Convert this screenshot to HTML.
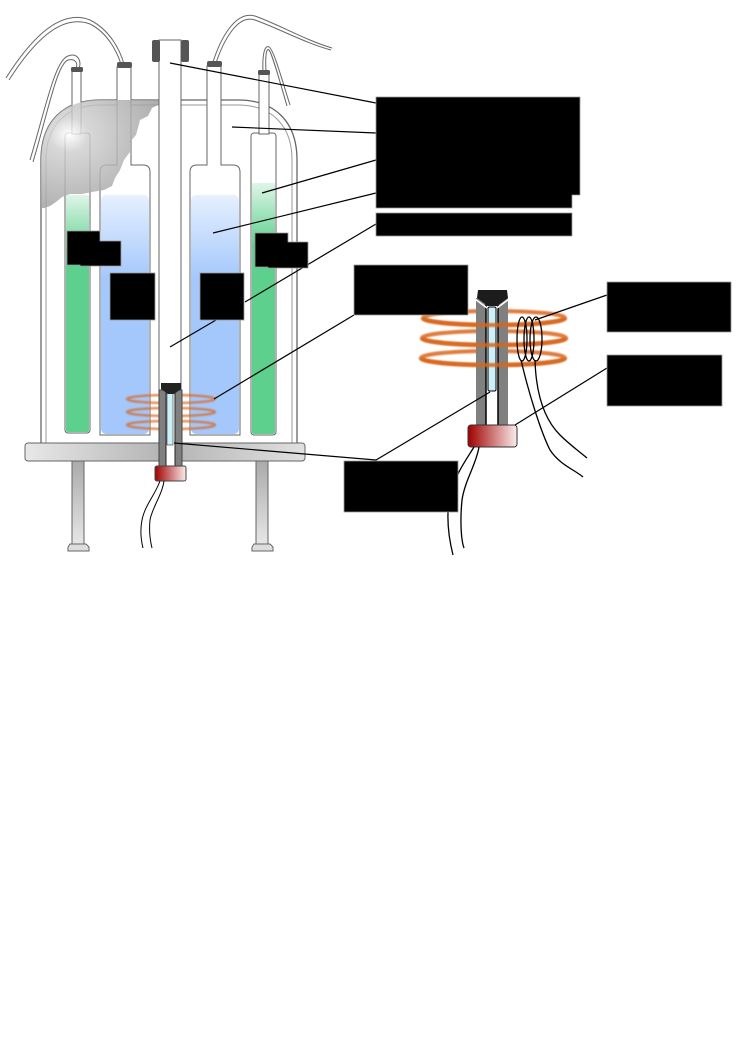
<!DOCTYPE html>
<html><head><meta charset="utf-8"><style>html,body{margin:0;padding:0;background:#fff}svg{display:block}</style></head>
<body>
<svg width="744" height="1052" viewBox="0 0 744 1052" xmlns="http://www.w3.org/2000/svg">
<defs>
<linearGradient id="blue" x1="0" y1="0" x2="0" y2="1"><stop offset="0" stop-color="#e6f0ff"/><stop offset="0.35" stop-color="#a4c8fc"/><stop offset="1" stop-color="#a4c8fc"/></linearGradient>
<linearGradient id="green" x1="0" y1="0" x2="0" y2="1"><stop offset="0" stop-color="#dff5e8"/><stop offset="0.25" stop-color="#5ed08e"/><stop offset="1" stop-color="#5ed08e"/></linearGradient>
<linearGradient id="plate" x1="0" y1="0" x2="1" y2="0"><stop offset="0" stop-color="#e8e8e8"/><stop offset="0.5" stop-color="#b3b3b3"/><stop offset="1" stop-color="#e0e0e0"/></linearGradient>
<linearGradient id="leg" x1="0" y1="0" x2="0" y2="1"><stop offset="0" stop-color="#aaa"/><stop offset="1" stop-color="#e6e6e6"/></linearGradient>
<linearGradient id="red" x1="0" y1="0" x2="1" y2="0"><stop offset="0" stop-color="#a00000"/><stop offset="1" stop-color="#fbecec"/></linearGradient>
<radialGradient id="cloud" cx="0.3" cy="0.35" r="0.75"><stop offset="0" stop-color="#fff"/><stop offset="0.2" stop-color="#cfcfcf"/><stop offset="1" stop-color="#9a9a9a"/></radialGradient>
<clipPath id="dw"><path d="M41 445 L41 160 C41 120,65 100,100 100 L238 100 C273 100,297 120,297 160 L297 445 Z"/></clipPath>
<filter id="bl"><feGaussianBlur stdDeviation="0.8"/></filter>
</defs>
<!-- tubing -->
<g fill="none" stroke="#666" stroke-width="1">
<path d="M6 78 C30 40,60 8,90 20 C110 30,120 50,124 64"/><path d="M9 80 C32 44,60 13,90 24 C108 33,117 52,121 64"/>
<path d="M30 160 C45 110,55 60,68 56 C78 52,82 62,79 68"/><path d="M33 162 C48 112,57 64,68 60 C76 58,78 64,76 68"/>
<path d="M213 62 C220 40,235 10,255 16 C280 25,305 40,332 48"/><path d="M216 63 C223 42,237 14,255 20 C280 29,305 43,331 50"/>
<path d="M263 72 C262 50,266 45,269 47 C274 50,282 80,290 105"/><path d="M266 72 C265 52,267 48,269 50 C272 53,280 82,287 106"/>
</g>
<!-- dewar outer -->
<path d="M41 445 L41 160 C41 120,65 100,100 100 L238 100 C273 100,297 120,297 160 L297 445" fill="#fff" stroke="#666" stroke-width="1.3"/>
<path d="M46 445 L46 160 C46 124,68 105,100 105 L238 105 C270 105,292 124,292 160 L292 445" fill="none" stroke="#999" stroke-width="1"/>
<!-- left small tube -->
<rect x="65" y="133" width="25" height="300" rx="3" fill="#fff" stroke="#666"/>
<rect x="66" y="195" width="23" height="237" rx="2" fill="url(#green)"/>
<rect x="72" y="70" width="9" height="64" fill="#fff" stroke="#666"/>
<rect x="71" y="67" width="12" height="5" rx="1.5" fill="#555"/>
<!-- right small tube -->
<rect x="251" y="133" width="25" height="302" rx="3" fill="#fff" stroke="#666"/>
<rect x="252" y="183" width="23" height="251" rx="2" fill="url(#green)"/>
<rect x="259" y="73" width="10" height="61" fill="#fff" stroke="#666"/>
<rect x="258" y="70" width="12" height="5" rx="1.5" fill="#555"/>
<!-- left flask -->
<path d="M100 435 L100 172 Q100 165,107 165 L117 165 L117 67 L131 67 L131 165 L143 165 Q150 165,150 172 L150 435 Z" fill="#fff" stroke="#666"/>
<rect x="101" y="195" width="48" height="239" rx="5" fill="url(#blue)"/>
<rect x="117" y="62" width="15" height="6" rx="2" fill="#555"/>
<!-- cloud -->
<path clip-path="url(#dw)" d="M30 95 L160 98 L160 104 L152 108 L148 116 L140 120 L138 128 L136 135 L130 142 L130 152 L124 160 L120 170 L115 178 L112 186 L104 190 L92 192 L82 194 L70 194 L62 197 L56 202 L50 206 L44 208 L30 208 Z" fill="url(#cloud)" opacity="0.82"/>
<!-- right flask -->
<path d="M190 435 L190 172 Q190 165,197 165 L207 165 L207 66 L221 66 L221 165 L233 165 Q240 165,240 172 L240 435 Z" fill="#fff" stroke="#666"/>
<rect x="191" y="195" width="48" height="239" rx="5" fill="url(#blue)"/>
<rect x="207" y="61" width="15" height="6" rx="2" fill="#555"/>
<!-- center tube -->
<rect x="159" y="40" width="22" height="410" fill="#fff" stroke="#666"/>
<rect x="152" y="40" width="8" height="22" rx="2" fill="#555"/>
<rect x="181" y="40" width="8" height="22" rx="2" fill="#555"/>
<!-- coils back -->
<g fill="none" stroke="#d9661c" stroke-width="2.5" opacity="0.7" filter="url(#bl)">
<ellipse cx="171" cy="399" rx="44" ry="4"/><ellipse cx="171" cy="412" rx="44" ry="4"/><ellipse cx="171" cy="425" rx="44" ry="4"/></g>
<!-- base -->
<rect x="25" y="443" width="280" height="18" rx="3" fill="url(#plate)" stroke="#666"/>
<rect x="72" y="461" width="12" height="83" fill="url(#leg)" stroke="#666"/>
<path d="M70 544 L86 544 L89 547 L89 551 L68 551 L68 547 Z" fill="#ddd" stroke="#666"/>
<rect x="256" y="461" width="12" height="83" fill="url(#leg)" stroke="#666"/>
<path d="M254 544 L270 544 L273 547 L273 551 L252 551 L252 547 Z" fill="#ddd" stroke="#666"/>
<!-- small probe -->
<rect x="159" y="390" width="23" height="78" fill="#808080" stroke="#444"/>
<rect x="166" y="393" width="9" height="75" fill="#fff" stroke="#222"/>
<rect x="167" y="393" width="6" height="52" fill="#cdf0f8" stroke="#333" stroke-width="0.6"/>
<path d="M161 383 L181 383 L181 389 L174 394 L168 394 L161 389 Z" fill="#222"/>
<rect x="155" y="466" width="31" height="15" rx="2" fill="url(#red)" stroke="#444"/>
<path d="M160 481 C155 495,145 505,142 520 C140 530,141 540,143 548" fill="none" stroke="#000"/>
<path d="M164 481 C162 495,152 508,150 520 C149 530,150 540,152 548" fill="none" stroke="#000"/>
<!-- big probe -->
<g fill="none" stroke="#d9661c" stroke-width="4" opacity="0.85" filter="url(#bl)">
<ellipse cx="494" cy="318" rx="71" ry="7"/><ellipse cx="494" cy="338" rx="72" ry="7"/><ellipse cx="493" cy="358" rx="72" ry="7"/></g>
<rect x="476" y="298" width="32" height="128" fill="#808080"/>
<rect x="486" y="305" width="12" height="121" fill="#fff" stroke="#000" stroke-width="1.5"/>
<rect x="488" y="307" width="8" height="84" rx="1.5" fill="#cdf0f8" stroke="#000" stroke-width="1"/>
<path d="M478 290 L507 290 L508 298 L497 306 L488 306 L477 298 Z" fill="#1c1c1c"/>
<path d="M475 299 L487 308 M509 299 L497 308" stroke="#fff" stroke-width="1.5"/>
<g fill="none" stroke="#d9661c" stroke-width="4" opacity="0.85" filter="url(#bl)">
<path d="M423 318 A71 7 0 0 0 565 318"/><path d="M422 338 A72 7 0 0 0 566 338"/><path d="M421 358 A72 7 0 0 0 565 358"/></g>
<rect x="468" y="425" width="49" height="22" rx="3" fill="url(#red)" stroke="#333"/>
<g fill="none" stroke="#000" stroke-width="1.3">
<ellipse cx="522" cy="339" rx="5" ry="22"/><ellipse cx="529" cy="339" rx="5" ry="22"/><ellipse cx="536" cy="339" rx="6" ry="22"/>
<path d="M521 360 C528 390,540 430,550 450 C560 465,575 470,583 477"/>
<path d="M535 360 C536 395,545 420,560 435 C570 445,580 452,587 458"/>
<path d="M474 447 C466 460,455 475,450 495 C446 515,448 535,453 555"/>
<path d="M479 447 C476 465,465 480,462 500 C460 520,461 540,464 548"/>
</g>
<!-- leader lines -->
<g stroke="#000" stroke-width="1.2" fill="none">
<path d="M170 63 L376 103"/><path d="M232 127 L376 133"/><path d="M262 193 L376 160"/><path d="M213 233 L376 193"/>
<path d="M245 302 L376 224"/><path d="M170 347 L216 320"/><path d="M214 399 L354 315"/>
<path d="M174 443 L376 460 L490 392"/><path d="M535 320 L607 295"/><path d="M515 425 L607 368"/>
</g>
<!-- label boxes -->
<g fill="#000" stroke="#999" stroke-width="0.8">
<path d="M376 97 L580 97 L580 195 L572 195 L572 208 L376 208 Z"/>
<rect x="376" y="213" width="196" height="23"/>
<rect x="354" y="265" width="114" height="50"/>
<rect x="607" y="282" width="124" height="50"/>
<rect x="607" y="355" width="115" height="51"/>
<rect x="344" y="461" width="114" height="51"/>
<path d="M67 231 L100 231 L100 241 L121 241 L121 266 L80 266 L80 265 L67 265 Z"/>
<path d="M255 233 L288 233 L288 242 L308 242 L308 268 L268 268 L268 267 L255 267 Z"/>
<rect x="110" y="273" width="45" height="47"/>
<rect x="200" y="273" width="44" height="47"/>
</g>
</svg>
</body></html>
